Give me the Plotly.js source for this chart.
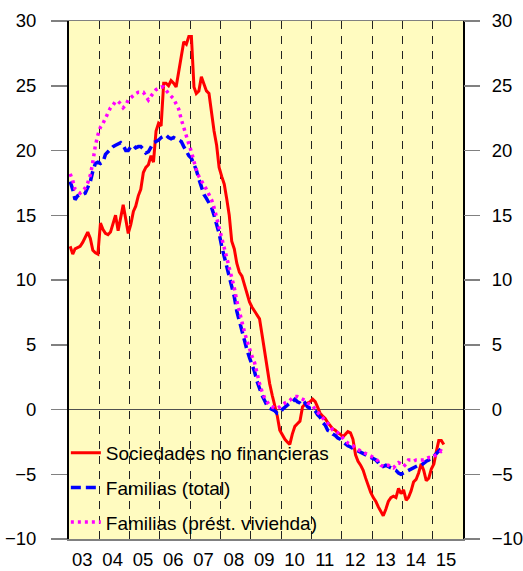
<!DOCTYPE html>
<html>
<head>
<meta charset="utf-8">
<script src="https://cdn.plot.ly/plotly-3.0.1.min.js"></script>
<style>
  html, body { margin: 0; padding: 0; background: #ffffff; }
  #chart { width: 523px; height: 571px; }
</style>
</head>
<body>
<div id="chart"></div>
<script>
// Monthly series, January 2003 to May 2015 (values in %)
const startYear = 2003;
const startMonth = 1;

const sociedadesNoFinancieras = [
  12.6, 12.0, 12.4, 12.5, 12.6, 12.9, 13.3, 13.7, 13.2, 12.3, 12.1, 12.0,
  14.4, 13.9, 13.6, 13.5, 13.7, 14.3, 15.0, 13.8, 14.8, 15.8, 14.7, 13.6,
  14.3, 15.3, 15.7, 16.5, 17.0, 18.3, 18.7, 18.9, 19.6, 19.1, 21.5, 22.1,
  21.9, 25.2, 25.2, 25.0, 25.4, 25.2, 24.9, 26.0, 27.2, 28.4, 28.2, 28.8,
  28.8, 24.9, 24.4, 24.6, 25.7, 25.2, 24.6, 24.4, 22.9, 21.5, 20.4, 18.7,
  18.0, 17.4, 16.3, 15.0, 13.0, 12.4, 11.3, 10.6, 10.3, 9.6, 9.0, 8.3,
  7.9, 7.6, 7.3, 7.0, 5.8, 4.5, 3.0, 2.0, 1.1, 0.3, -0.5, -1.6,
  -2.0, -2.3, -2.5, -2.7, -1.9, -1.3, -1.1, -0.9, 0.2, 0.4, 0.5, 0.6,
  0.8, 0.6, 0.2, -0.3, -0.5, -0.7, -1.0, -1.3, -1.5, -1.6, -1.8, -1.9,
  -2.1, -1.9, -1.7, -1.8, -2.3, -3.5, -4.0, -4.3, -4.7, -5.3, -5.9, -6.4,
  -6.8, -7.1, -7.5, -7.9, -8.2, -7.7, -7.1, -6.8, -6.7, -6.8, -6.1, -6.5,
  -6.2, -7.0, -6.8, -6.3, -5.6, -5.4, -4.9, -4.2, -4.7, -5.5, -5.3, -4.6,
  -4.2, -3.2, -2.4, -2.4, -2.7
];

const familiasTotal = [
  17.6, 17.0, 16.2, 16.5, 16.6, 16.6, 16.7, 17.1, 17.6, 18.4, 19.0, 19.1,
  19.0, 19.1, 19.7, 19.9, 20.1, 20.3, 20.4, 20.5, 20.6, 20.4, 20.0, 20.0,
  20.3, 20.4, 20.2, 20.3, 20.3, 20.1, 19.8, 19.9, 20.3, 20.6, 20.7, 20.8,
  21.0, 21.1, 21.2, 21.0, 20.9, 21.0, 20.9, 20.8, 20.7, 20.3, 19.9, 19.6,
  19.4, 19.0, 18.5, 17.8, 17.2, 16.6, 16.3, 16.0, 15.6, 15.0, 14.3, 13.6,
  12.6, 11.8, 10.9, 10.0, 9.3, 8.7, 7.6, 6.8, 6.0, 5.3, 4.6, 4.0,
  3.5, 2.9, 2.2, 1.6, 1.1, 0.7, 0.3, 0.1, 0.0, -0.1, -0.3, -0.3,
  0.0, 0.2, 0.3, 0.5, 0.6, 0.8, 0.6, 0.5, 0.3, 0.5, 0.2, 0.1,
  0.1, -0.1, -0.4, -0.6, -1.0, -1.2, -1.6, -1.7, -1.9, -2.0, -2.2, -2.3,
  -2.5, -2.7, -2.8, -2.9, -3.0, -3.1, -3.2, -3.3, -3.4, -3.5, -3.6, -3.7,
  -3.8, -3.9, -4.1, -4.4, -4.4, -4.3, -4.4, -4.5, -4.6, -4.7, -4.9, -5.0,
  -4.9, -4.8, -4.7, -4.6, -4.5, -4.4, -4.3, -4.3, -4.1, -4.0, -3.9, -3.7,
  -3.6, -3.4, -3.2, -3.0, -3.1
];

const familiasVivienda = [
  18.2, 17.7, 17.0, 16.8, 16.7, 16.9, 17.1, 17.5, 18.1, 19.1, 20.4, 21.2,
  21.8, 22.1, 22.5, 22.9, 23.3, 23.5, 23.8, 23.8, 23.6, 23.3, 23.5, 23.9,
  24.1, 24.3, 24.4, 24.5, 24.5, 24.5, 24.2, 23.9, 24.2, 24.4, 24.7, 24.8,
  24.9, 24.9, 24.6, 24.4, 24.2, 24.0, 23.6, 23.2, 22.4, 21.7, 21.2, 20.5,
  19.9, 19.1, 18.5, 18.0, 17.7, 17.3, 17.0, 16.6, 16.2, 15.6, 14.8, 14.1,
  13.3, 12.6, 11.8, 11.0, 10.2, 9.4, 8.4, 7.5, 6.7, 6.0, 5.3, 4.6,
  4.1, 3.6, 2.8, 2.0, 1.4, 0.9, 0.6, 0.3, 0.2, 0.1, 0.1, 0.2,
  0.4, 0.5, 0.6, 0.7, 0.9, 1.0, 1.0, 0.9, 0.8, 0.7, 0.5, 0.4,
  0.3, 0.0, -0.2, -0.4, -0.6, -0.8, -1.1, -1.3, -1.6, -1.7, -1.8, -2.0,
  -2.2, -2.4, -2.6, -2.7, -2.8, -3.0, -3.1, -3.2, -3.3, -3.4, -3.5, -3.6,
  -3.7, -3.8, -4.0, -4.3, -4.4, -4.3, -4.3, -4.4, -4.5, -4.3, -4.1, -4.2,
  -4.4, -4.2, -3.9, -3.9, -4.0, -3.9, -3.9, -3.9, -3.9, -3.8, -3.7, -3.7,
  -3.6, -3.5, -3.4, -3.2, -3.3
];

const seriesNames = ["Sociedades no financieras", "Familias (total)", "Familias (prést. vivienda)"];
const yearLabels = ["03","04","05","06","07","08","09","10","11","12","13","14","15"];
const yTicks = [-10, -5, 0, 5, 10, 15, 20, 25, 30];

// monthly dates (mid-month) for the series
function monthDates(n) {
  const out = [];
  for (let i = 0; i < n; i++) {
    const y = startYear + Math.floor((startMonth - 1 + i) / 12);
    const m = ((startMonth - 1 + i) % 12) + 1;
    out.push(y + "-" + String(m).padStart(2, "0") + "-15");
  }
  return out;
}

const FONT = "Liberation Sans, Arial, Helvetica, sans-serif";
const FS = 18.5;
const firstYear = 2000 + parseInt(yearLabels[0], 10);
const lastYear = 2000 + parseInt(yearLabels[yearLabels.length - 1], 10);

const labelPos = yearLabels.map(l => (2000 + parseInt(l, 10)) + "-06-10");
const yearBounds = [];
for (let y = firstYear + 1; y <= lastYear; y++) yearBounds.push(y + "-01-01");

const traces = [
  {
    x: monthDates(sociedadesNoFinancieras.length), y: sociedadesNoFinancieras,
    name: seriesNames[0], type: "scatter", mode: "lines",
    line: { color: "#ff0000", width: 3 }, legendgroup: "a"
  },
  {
    x: monthDates(familiasTotal.length), y: familiasTotal,
    name: seriesNames[1], type: "scatter", mode: "lines",
    line: { color: "#0000ff", width: 3.5, dash: "10px,5px" }, legendgroup: "b"
  },
  {
    x: monthDates(familiasVivienda.length), y: familiasVivienda,
    name: seriesNames[2], type: "scatter", mode: "lines",
    line: { color: "#ff00ff", width: 3.5, dash: "3px,4px" }, legendgroup: "c"
  },
  // carrier for the right-hand axis (invisible, same data as first series)
  {
    x: monthDates(sociedadesNoFinancieras.length), y: sociedadesNoFinancieras,
    yaxis: "y2", type: "scatter", mode: "lines", showlegend: false,
    hoverinfo: "skip", opacity: 0, line: { width: 0, color: "rgba(0,0,0,0)" }
  }
];

const yAxisCommon = {
  range: [-10, 30],
  tickvals: yTicks,
  ticks: "outside",
  ticklen: 16,
  tickwidth: 1.5,
  tickcolor: "#808080",
  showgrid: false,
  fixedrange: true,
  tickfont: { family: FONT, size: FS, color: "#000000" }
};

const layout = {
  width: 523,
  height: 571,
  margin: { l: 69, r: 60, t: 21, b: 32, pad: 0 },
  paper_bgcolor: "#ffffff",
  plot_bgcolor: "#fffbc0",
  font: { family: FONT, size: FS, color: "#000000" },
  showlegend: true,
  legend: {
    x: -0.008, y: 0.203, xanchor: "left", yanchor: "top",
    bgcolor: "rgba(0,0,0,0)", borderwidth: 0,
    font: { family: FONT, size: 19, color: "#000000" },
    traceorder: "grouped", tracegroupgap: 7
  },
  xaxis: {
    type: "date",
    range: [firstYear + "-01-01", (lastYear + 1) + "-01-01"],
    tickmode: "array",
    tickvals: labelPos,
    ticktext: yearLabels,
    ticks: "outside",
    ticklen: 3,
    tickcolor: "rgba(0,0,0,0)",
    showgrid: false,
    showline: true,
    linecolor: "#808080",
    linewidth: 1.5,
    mirror: true,
    zeroline: false,
    fixedrange: true,
    tickfont: { family: FONT, size: FS, color: "#000000" },
    minor: {
      tickmode: "array",
      tickvals: yearBounds,
      showgrid: true,
      gridcolor: "#222222",
      gridwidth: 1,
      griddash: "8px,7px",
      ticks: ""
    }
  },
  yaxis: Object.assign({}, yAxisCommon, {
    side: "left",
    ticklabelstandoff: 11,
    showline: true,
    linecolor: "#000000",
    linewidth: 2,
    mirror: true,
    zeroline: true,
    zerolinecolor: "#505050",
    zerolinewidth: 1.5
  }),
  yaxis2: Object.assign({}, yAxisCommon, {
    side: "right",
    overlaying: "y",
    ticklabelstandoff: 8,
    showline: false,
    zeroline: false
  })
};

Plotly.newPlot("chart", traces, layout, { staticPlot: true, displayModeBar: false });
</script>
</body>
</html>
